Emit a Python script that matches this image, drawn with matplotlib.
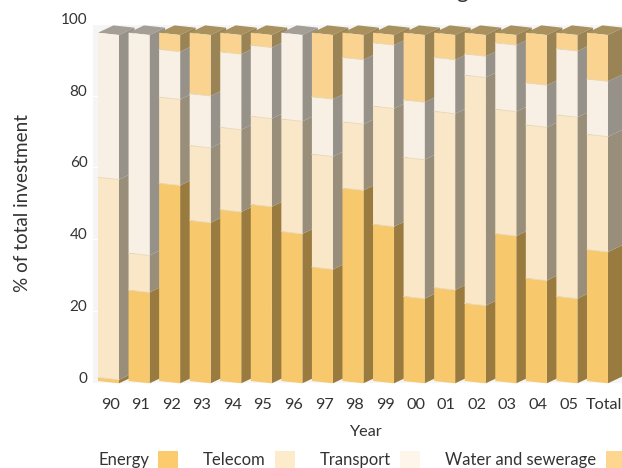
import matplotlib
matplotlib.use('Agg')
import matplotlib.pyplot as plt
from matplotlib.patches import Patch
from matplotlib.transforms import ScaledTranslation

plt.rcParams['font.family'] = 'Lato'

years = ['90', '91', '92', '93', '94', '95', '96', '97', '98', '99', '00', '01', '02', '03', '04', '05', 'Total']
energy = [1.0, 26.1, 56.8, 46.1, 49.2, 50.7, 42.9, 32.7, 55.4, 45.0, 24.3, 26.8, 22.3, 42.3, 29.5, 24.3, 37.7]
telecom = [57.5, 10.6, 24.7, 21.5, 23.6, 25.3, 32.3, 32.4, 19.0, 33.9, 39.9, 50.6, 65.5, 35.7, 44.0, 52.1, 33.1]
transport = [41.5, 63.3, 13.7, 14.9, 21.7, 20.4, 24.8, 16.5, 18.5, 18.2, 16.5, 15.5, 6.1, 19.1, 12.1, 19.0, 15.9]
water = [0, 0, 4.8, 17.5, 5.5, 3.6, 0, 18.4, 7.1, 2.9, 19.3, 7.1, 6.1, 2.9, 14.4, 4.6, 13.3]

names = ['Energy', 'Telecom', 'Transport', 'Water and sewerage']
series = [energy, telecom, transport, water]
front_cols = ['#f8c86c', '#f9e7c8', '#f8f0e5', '#f9d38f']
side_cols = ['#997b40', '#988e7a', '#96928a', '#9a8354']
top_cols = ['#a8905f', '#a39f96', '#a39f96', '#a8905f']
legend_cols = ['#fbcb6e', '#fdeccb', '#fef6ea', '#fdd68f']

W, H = 622, 468
text_col = '#333333'

def box(l, t, r, b):
    return [l/W, 1-b/H, (r-l)/W, (b-t)/H]

fig = plt.figure(figsize=(W/100, H/100), dpi=100)

# back wall, carries the y axis
wall = fig.add_axes(box(93, 24, 622, 382.7))
wall.set_facecolor('#f5f5f5')
wall.set_xlim(0, 1)
wall.set_ylim(0, 100)
wall.set_xticks([])
wall.set_yticks([0, 20, 40, 60, 80, 100])
wall.grid(axis='y', color='white', lw=1)
wall.set_axisbelow(True)
wall.tick_params(axis='y', length=0, pad=4, labelsize=11, labelcolor=text_col)
for s in wall.spines.values():
    s.set_visible(False)
wall.set_ylabel('% of total investment', fontsize=13.6, color=text_col, labelpad=21.5)
fig.canvas.draw()
up = ScaledTranslation(0, 4/72, fig.dpi_scale_trans)
for lab in wall.get_yticklabels():
    lab.set_transform(lab.get_transform() + up)

# bars, front face scale differs from the wall
ax = fig.add_axes(box(93, 24, 622, 382.7))
ax.patch.set_alpha(0)
ax.set_xlim(-0.1636, 17.147)
ax.set_ylim(-0.49, 102.5)
for s in ax.spines.values():
    s.set_visible(False)
ax.set_yticks([])

w = 0.687      # front face width
dx = 0.507     # depth along x
dy = 2.1       # depth along y
skew = 0.66    # front edges run down to the right

for i in range(len(years)):
    z = 2 + i
    base = 0
    top_k = 0
    for k in range(4):
        v = series[k][i]
        if v == 0:
            continue
        t = base + v
        ax.fill([i, i+w, i+w, i], [base, base-skew, t-skew, t], color=front_cols[k], lw=0, zorder=z+0.2, clip_on=False)
        ax.fill([i+w, i+w+dx, i+w+dx, i+w], [base-skew, base-skew+dy, t-skew+dy, t-skew], color=side_cols[k], lw=0, zorder=z+0.1, clip_on=False)
        if base > 0:
            ax.plot([i, i+w], [base, base-skew], color='#e8d8b8', lw=0.6, zorder=z+0.3, clip_on=False)
        base = t
        top_k = k
    ax.fill([i, i+dx, i+w+dx, i+w], [base, base+dy, base-skew+dy, base-skew], color=top_cols[top_k], lw=0, zorder=z, clip_on=False)

xt = [i+0.4 for i in range(len(years))]
xt[-1] += 0.15
ax.set_xticks(xt)
ax.set_xticklabels(years, fontsize=11.7, color=text_col)
ax.tick_params(axis='x', length=0, pad=11)
ax.set_xlabel('Year', fontsize=11.7, color=text_col, labelpad=9.5, x=0.515)

handles = [Patch(facecolor=c, edgecolor='none') for c in legend_cols]
fig.legend(handles, names, ncol=4, markerfirst=False, frameon=False, loc='lower left',
           bbox_to_anchor=(98/W, 0), fontsize=12, labelcolor=text_col,
           handlelength=1.2, handleheight=1.2, handletextpad=0.55, columnspacing=1.5,
           borderpad=0, borderaxespad=0)

# title is cut off at the top of the reference, only descenders show
fig.text(462/W, 1+2.5/H, 'g', fontsize=16, color=text_col, ha='center', va='baseline')
fig.text(502/W, 1+2.5/H, ',', fontsize=16, color=text_col, ha='center', va='baseline')

fig.savefig('out.png', dpi=100)
